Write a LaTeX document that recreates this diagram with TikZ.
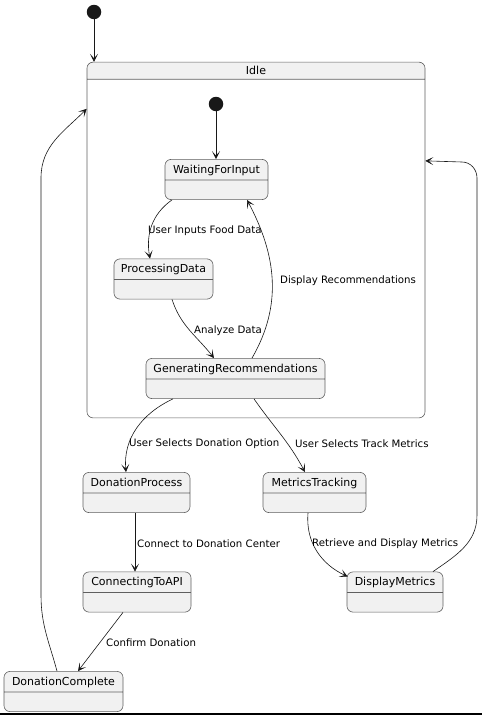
\documentclass[tikz,border=0pt]{standalone}
\usepackage{fontspec}
\setmainfont{DejaVu Sans}
\usetikzlibrary{arrows.meta,positioning,calc,shapes.multipart}
\definecolor{statefill}{HTML}{F1F1F1}
\definecolor{stateline}{HTML}{5F5F5F}
\definecolor{edgeline}{HTML}{181818}
\newcommand{\sline}{\rule[-2.6pt]{0pt}{12pt}}
\tikzstyle{state}=[rectangle split,rectangle split parts=2,draw=stateline,fill=statefill,rounded corners=6pt,inner xsep=0pt,inner ysep=4pt,rectangle split empty part height=11pt,font=\fontsize{11}{12}\selectfont,line width=0.6pt]
\tikzstyle{composite}=[rectangle split,rectangle split parts=2,draw=stateline,rectangle split part fill={statefill,white},rounded corners=6pt,inner ysep=4pt,rectangle split empty part height=330pt,font=\fontsize{11}{12}\selectfont,line width=0.6pt]
\tikzstyle{start}=[circle,fill=edgeline,minimum size=14.5pt,inner sep=0pt]
\tikzstyle{trans}=[draw=edgeline,line width=0.6pt,-{Stealth[length=8pt,width=8pt,inset=4.5pt]}]
\tikzstyle{lbl}=[font=\fontsize{10.2}{12}\selectfont,inner sep=0pt,anchor=west]

\begin{document}
\begin{tikzpicture}[x=1pt,y=-1pt]
\useasboundingbox (0,0) rectangle (482,715);
% states
\node [start] (init) at (94,12) {};
\node [composite,minimum width=338pt] (idle) at (256,240) {\raisebox{-1.5pt}{Idle}};
\node [start] (sub) at (216,104) {};
\node [state,minimum width=103pt] (wfi) at (216.5,179.5) {\sline WaitingForInput};
\node [state,minimum width=99pt] (pd) at (163.5,279) {\sline ProcessingData};
\node [state,minimum width=179pt] (gr) at (235.5,378.5) {\sline GeneratingRecommendations};
\node [state,minimum width=107pt] (dp) at (136.5,492.5) {\sline DonationProcess};
\node [state,minimum width=103pt] (mt) at (314.5,492.5) {\sline MetricsTracking};
\node [state,minimum width=108pt] (cta) at (137,592) {\sline ConnectingToAPI};
\node [state,minimum width=96pt] (dm) at (395,592) {\sline DisplayMetrics};
\node [state,minimum width=119pt] (dc) at (63.5,691.5) {\sline DonationComplete};
% bends of the long returns
\coordinate (dclow) at (41,595);
\coordinate (dchigh) at (41,178);
\coordinate (dmlow) at (477,515);
\coordinate (dmhigh) at (477,178);
\coordinate (dmturn) at (462,162);
% transitions
\draw [trans] (init) -- (init |- idle.north);
\draw [trans] (sub) -- (sub |- wfi.north);
\draw [trans] ($(wfi.south)+(-44.5,0)$) to[out=215,in=100] ($(pd.north)+(-13.5,0)$);
\draw [trans] ($(pd.south)+(8.5,0)$) to[out=-72,in=128] ($(gr.north)+(-21.5,0)$);
\draw [trans] ($(gr.north)+(16.5,0)$) to[out=60,in=-62] ($(wfi.south)+(30.5,0)$);
\draw [trans] ($(gr.south)+(-62.5,0)$) to[out=205,in=95] ($(dp.north)+(-10.5,0)$);
\draw [trans] ($(gr.south)+(18.5,0)$) to[out=-55,in=118] ($(mt.north)+(-9.5,0)$);
\draw [trans] ($(dp.south)+(-1.5,0)$) -- ($(cta.north)+(-2,0)$);
\draw [trans] ($(mt.south)+(-6.5,0)$) to[out=-95,in=155] ($(dm.north west)+(1,5)$);
\draw [trans] ($(cta.south)+(-14,0)$) -- ($(dc.north)+(14.5,0)$);
\draw [trans] ($(dc.north)+(-6.5,0)$) to[out=105,in=-90] (dclow) -- (dchigh) to[out=90,in=225] ($(idle.north west)+(0,47)$);
\draw [trans] ($(dm.north)+(38,0)$) to[out=35,in=-90] (dmlow) -- (dmhigh) to[out=90,in=0] (dmturn) -- ($(idle.north east)+(0,99)$);
% labels
\node [lbl] (l1) at (148,230.5) {User Inputs Food Data};
\node [lbl] (l2) at (194,330.5) {Analyze Data};
\node [lbl] (l3) at (280,280.5) {Display Recommendations};
\node [lbl] (l4) at (129,443.5) {User Selects Donation Option};
\node [lbl] (l5) at (295,443.5) {User Selects Track Metrics};
\node [lbl] (l6) at (137,543.5) {Connect to Donation Center};
\node [lbl] (l7) at (312,543.5) {Retrieve and Display Metrics};
\node [lbl] (l8) at (106,642.5) {Confirm Donation};
\draw [line width=2pt] (0,714) -- (482,714);
\end{tikzpicture}
\end{document}
